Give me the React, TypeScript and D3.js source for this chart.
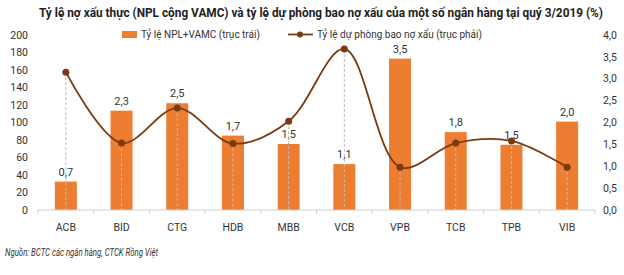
import React, { useEffect, useRef } from 'react';
import * as d3 from 'd3';

// Ngân hàng
const banks = ['ACB', 'BID', 'CTG', 'HDB', 'MBB', 'VCB', 'VPB', 'TCB', 'TPB', 'VIB'];
// Cột: giá trị theo trục trái
const nplBars = [32.5, 113.5, 122, 85, 75.5, 52.5, 173, 89, 74.5, 101];
// Nhãn cột (%)
const nplLabels = ['0,7', '2,3', '2,5', '1,7', '1,5', '1,1', '3,5', '1,8', '1,5', '2,0'];
// Đường: tỷ lệ dự phòng bao nợ xấu (trục phải)
const coverage = [3.15, 1.53, 2.33, 1.52, 2.03, 3.68, 0.98, 1.53, 1.58, 0.98];
const leftTicks = [0, 20, 40, 60, 80, 100, 120, 140, 160, 180, 200];
const rightTicks = [0, 0.5, 1, 1.5, 2, 2.5, 3, 3.5, 4];

const W = 624;
const H = 275;
const FONT = 'Roboto, "Open Sans", sans-serif';

const App = () => {
  const ref = useRef<SVGSVGElement>(null);

  useEffect(() => {
    const svg = d3.select(ref.current);
    svg.selectAll('*').remove();

    const x0 = 38, x1 = 595, yTop = 35, yBot = 210;

    const x = d3.scaleBand().domain(banks).range([x0, x1]).paddingInner(0).paddingOuter(0);
    const yL = d3.scaleLinear().domain([0, 200]).range([yBot, yTop]);
    const yR = d3.scaleLinear().domain([0, 4]).range([yBot, yTop]);
    const cx = (b: string) => (x(b) as number) + x.bandwidth() / 2;

    // Tiêu đề
    svg.append('text')
      .attr('x', 39).attr('y', 17)
      .attr('textLength', 564).attr('lengthAdjust', 'spacingAndGlyphs')
      .attr('font-family', FONT).attr('font-weight', 'bold').attr('font-size', 12)
      .attr('fill', '#222')
      .text('Tỷ lệ nợ xấu thực (NPL cộng VAMC) và tỷ lệ dự phòng bao nợ xấu của một số ngân hàng tại quý 3/2019 (%)');

    // Trục trái
    svg.append('g').selectAll('text').data(leftTicks).enter().append('text')
      .attr('x', 28).attr('y', d => yL(d)).attr('dy', '0.35em')
      .attr('text-anchor', 'end')
      .attr('font-family', FONT).attr('font-size', 10.5).attr('fill', '#333')
      .text(d => d);

    // Trục phải
    svg.append('g').selectAll('text').data(rightTicks).enter().append('text')
      .attr('x', 603).attr('y', d => yR(d)).attr('dy', '0.35em')
      .attr('font-family', FONT).attr('font-size', 10.5).attr('fill', '#333')
      .text(d => d3.format('.1f')(d).replace('.', ','));

    // Cột
    svg.append('g').selectAll('rect').data(banks).enter().append('rect')
      .attr('x', d => cx(d) - 11)
      .attr('width', 22)
      .attr('y', (d, i) => yL(nplBars[i]))
      .attr('height', (d, i) => yBot - yL(nplBars[i]))
      .attr('fill', '#ED7D31');

    // Nhãn cột
    svg.append('g').selectAll('text').data(banks).enter().append('text')
      .attr('x', d => cx(d))
      .attr('y', (d, i) => yL(nplBars[i]) - 6)
      .attr('text-anchor', 'middle')
      .attr('font-family', FONT).attr('font-size', 11).attr('fill', '#333')
      .text((d, i) => nplLabels[i]);

    // Đường gióng
    svg.append('g').selectAll('line').data(banks).enter().append('line')
      .attr('x1', d => cx(d)).attr('x2', d => cx(d))
      .attr('y1', (d, i) => yR(coverage[i])).attr('y2', yBot)
      .attr('stroke', '#bbb').attr('stroke-width', 1).attr('stroke-dasharray', '3,2');

    // Trục hoành
    svg.append('line')
      .attr('x1', x0).attr('x2', x1).attr('y1', yBot).attr('y2', yBot)
      .attr('stroke', '#d0d0d0');
    const bounds = banks.map(b => x(b) as number).concat([x1]);
    svg.append('g').selectAll('line').data(bounds).enter().append('line')
      .attr('x1', d => d).attr('x2', d => d).attr('y1', yBot).attr('y2', yBot + 4)
      .attr('stroke', '#d0d0d0');
    svg.append('g').selectAll('text').data(banks).enter().append('text')
      .attr('x', d => cx(d)).attr('y', 231)
      .attr('text-anchor', 'middle')
      .attr('font-family', FONT).attr('font-size', 10.5).attr('fill', '#333')
      .text(d => d);

    // Đường cong
    const line = d3.line<number>()
      .x((d, i) => cx(banks[i]))
      .y(d => yR(d))
      .curve(d3.curveCatmullRom.alpha(0.5));
    svg.append('path').datum(coverage)
      .attr('d', line)
      .attr('fill', 'none').attr('stroke', '#7A3A0E').attr('stroke-width', 1.8);
    svg.append('g').selectAll('circle').data(coverage).enter().append('circle')
      .attr('cx', (d, i) => cx(banks[i])).attr('cy', d => yR(d)).attr('r', 3.5)
      .attr('fill', '#7A3A0E');

    // Chú thích
    const lg = svg.append('g');
    lg.append('rect').attr('x', 122).attr('y', 31).attr('width', 15).attr('height', 7).attr('fill', '#ED7D31');
    lg.append('text').attr('x', 141).attr('y', 38)
      .attr('font-family', FONT).attr('font-size', 10).attr('fill', '#333')
      .text('Tỷ lệ NPL+VAMC (trục trái)');
    lg.append('line').attr('x1', 288).attr('x2', 313).attr('y1', 34.5).attr('y2', 34.5)
      .attr('stroke', '#7A3A0E').attr('stroke-width', 1.8);
    lg.append('circle').attr('cx', 300).attr('cy', 34.5).attr('r', 3).attr('fill', '#7A3A0E');
    lg.append('text').attr('x', 317).attr('y', 38)
      .attr('font-family', FONT).attr('font-size', 10).attr('fill', '#333')
      .text('Tỷ lệ dự phòng bao nợ xấu (trục phải)');

    // Nguồn
    svg.append('text').attr('x', 5).attr('y', 256)
      .attr('textLength', 153).attr('lengthAdjust', 'spacingAndGlyphs')
      .attr('font-family', FONT).attr('font-size', 10).attr('font-style', 'italic').attr('fill', '#333')
      .text('Nguồn: BCTC các ngân hàng, CTCK Rồng Việt');
  }, []);

  return (
    <svg ref={ref} width={W} height={H} style={{ position: 'absolute', left: 0, top: 0, background: '#fff' }} />
  );
};

export default App;
